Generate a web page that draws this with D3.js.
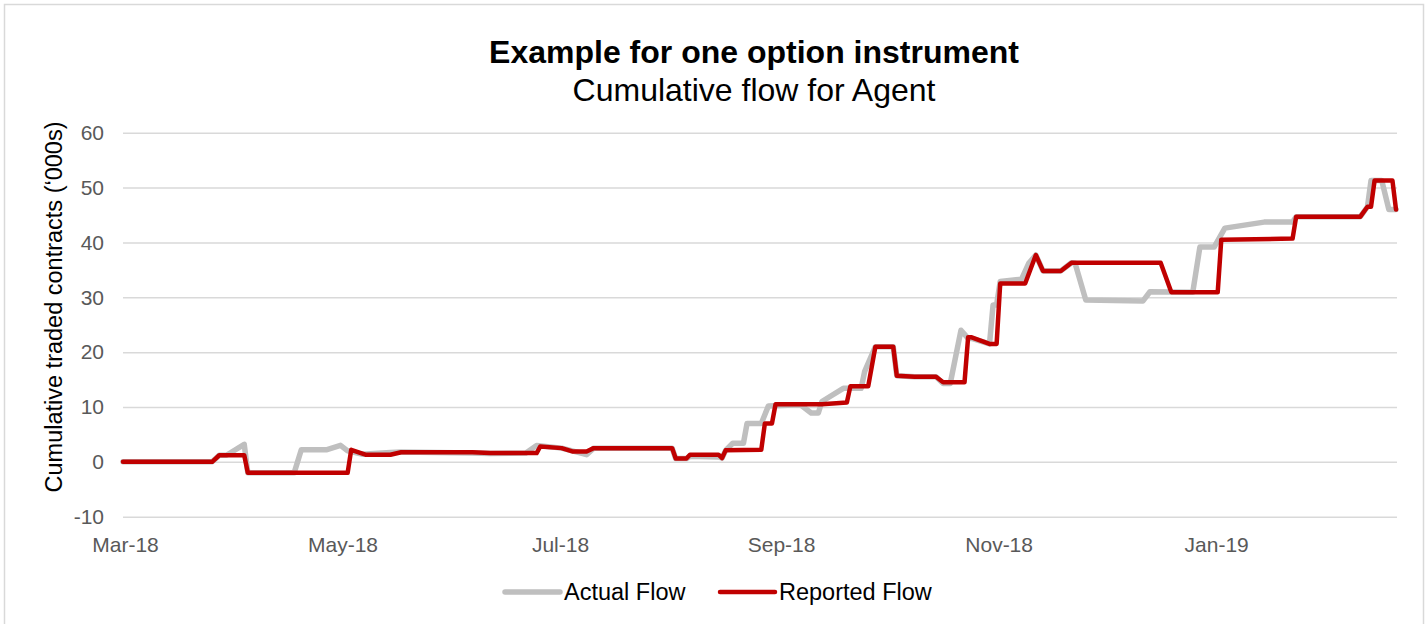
<!DOCTYPE html>
<html>
<head>
<meta charset="utf-8">
<script src="https://cdn.jsdelivr.net/npm/d3@7"></script>
<style>
  html, body { margin: 0; padding: 0; background: #ffffff; }
  svg { display: block; font-family: "Liberation Sans", Arial, sans-serif; }
</style>
</head>
<body>
<svg id="chart" width="1428" height="624"></svg>
<script>
// ---- Data ----
const titleText = "Example for one option instrument";
const subtitleText = "Cumulative flow for Agent";
const yAxisTitle = "Cumulative traded contracts (\u2018000s)";
const seriesNames = ["Actual Flow", "Reported Flow"];

const yTicks = [-10, 0, 10, 20, 30, 40, 50, 60];
const xTickDates = ["2018-03-01", "2018-05-01", "2018-07-01", "2018-09-01", "2018-11-01", "2019-01-01"];
const xDomain = ["2018-03-01", "2019-02-21"];

const actualDates = [
  "2018-03-01","2018-03-26","2018-03-28","2018-03-30","2018-04-04","2018-04-05","2018-04-18","2018-04-20",
  "2018-04-27","2018-05-01","2018-05-03","2018-05-07","2018-05-15","2018-05-18","2018-06-07","2018-06-12",
  "2018-06-22","2018-06-25","2018-07-02","2018-07-05","2018-07-09","2018-07-11","2018-08-02","2018-08-03",
  "2018-08-06","2018-08-07","2018-08-15","2018-08-16","2018-08-17","2018-08-19","2018-08-22","2018-08-23",
  "2018-08-27","2018-08-29","2018-09-07","2018-09-10","2018-09-12","2018-09-13","2018-09-19","2018-09-24",
  "2018-09-25","2018-09-28","2018-10-03","2018-10-04","2018-10-09","2018-10-15","2018-10-17","2018-10-19",
  "2018-10-22","2018-10-24","2018-10-25","2018-10-30","2018-10-31","2018-11-01","2018-11-02","2018-11-08",
  "2018-11-10","2018-11-12","2018-11-14","2018-11-19","2018-11-22","2018-11-23","2018-11-26","2018-12-12",
  "2018-12-14","2018-12-26","2018-12-28","2019-01-01","2019-01-04","2019-01-15","2019-01-23","2019-01-24",
  "2019-02-11","2019-02-13","2019-02-14","2019-02-17","2019-02-19","2019-02-21"
];
const actualValues = [
  0, 0, 1.2, 1.2, 3.2, -2, -2, 2.2,
  2.2, 3.0, 2.0, 1.4, 1.7, 1.8, 1.6, 1.5,
  1.6, 3.0, 2.5, 2.0, 1.3, 2.5, 2.5, 0.6,
  0.6, 1.0, 0.9, 0.7, 2.1, 3.4, 3.4, 7.0,
  7.0, 10.2, 10.4, 8.9, 8.9, 11.0, 13.4, 13.4,
  16.5, 21, 21, 15.7, 15.5, 15.5, 14.3, 14.3,
  24.0, 22.5, 22.5, 21.5, 28.6, 28.6, 32.9, 33.3,
  36.2, 37.7, 34.8, 34.8, 36.3, 36.2, 29.5, 29.3,
  31.0, 30.9, 39.15, 39.15, 42.6, 43.7, 43.7, 44.7,
  44.7, 46.5, 51.3, 51.3, 46, 46
];

const reportedDates = [
  "2018-03-01","2018-03-26","2018-03-28","2018-04-04","2018-04-05","2018-05-03","2018-05-04","2018-05-08",
  "2018-05-15","2018-05-18","2018-06-07","2018-06-12","2018-06-25","2018-06-26","2018-07-02","2018-07-05",
  "2018-07-09","2018-07-11","2018-08-02","2018-08-03","2018-08-06","2018-08-07","2018-08-15","2018-08-16",
  "2018-08-17","2018-08-27","2018-08-28","2018-08-30","2018-08-31","2018-09-13","2018-09-20","2018-09-21",
  "2018-09-26","2018-09-28","2018-10-03","2018-10-04","2018-10-09","2018-10-15","2018-10-17","2018-10-23",
  "2018-10-24","2018-10-25","2018-10-30","2018-11-01","2018-11-02","2018-11-09","2018-11-12","2018-11-14",
  "2018-11-19","2018-11-22","2018-12-17","2018-12-20","2019-01-02","2019-01-03","2019-01-23","2019-01-24",
  "2019-02-11","2019-02-13","2019-02-14","2019-02-15","2019-02-20","2019-02-21"
];
const reportedValues = [
  0, 0, 1.2, 1.2, -2, -2, 2.2, 1.3,
  1.3, 1.75, 1.75, 1.6, 1.6, 2.8, 2.5, 1.9,
  1.9, 2.5, 2.5, 0.6, 0.6, 1.3, 1.3, 0.7,
  2.1, 2.2, 7, 7, 10.5, 10.5, 10.8, 13.8,
  13.8, 21, 21, 15.7, 15.5, 15.5, 14.5, 14.5,
  22.7, 22.7, 21.5, 21.5, 32.5, 32.5, 37.7, 34.8,
  34.8, 36.3, 36.3, 30.9, 30.9, 40.5, 40.7, 44.7,
  44.7, 46.5, 46.5, 51.3, 51.3, 46
];

// ---- Build ----
const parse = d3.timeParse("%Y-%m-%d");
const toSeries = (dates, values) => dates.map((d, i) => ({ date: parse(d), value: values[i] }));
const series = [
  { name: seriesNames[0], color: "#bfbfbf", width: 5.5, data: toSeries(actualDates, actualValues) },
  { name: seriesNames[1], color: "#c00000", width: 4.5, data: toSeries(reportedDates, reportedValues) }
];

const svg = d3.select("#chart");
const plot = { left: 123, right: 1397, top: 132.7, bottom: 516.7 };

const x = d3.scaleTime().domain(xDomain.map(parse)).range([plot.left, plot.right - 1]);
const y = d3.scaleLinear().domain([-10, 60]).range([plot.bottom, plot.top]);

// Frame
svg.append("rect")
  .attr("x", 4.5).attr("y", 4.5).attr("width", 1419).attr("height", 640)
  .attr("fill", "#ffffff").attr("stroke", "#d9d9d9").attr("stroke-width", 1.5);

// Titles
svg.append("text").attr("x", 754).attr("y", 63).attr("text-anchor", "middle")
  .attr("font-size", 32).attr("font-weight", "bold").attr("fill", "#000").text(titleText);
svg.append("text").attr("x", 754).attr("y", 101).attr("text-anchor", "middle")
  .attr("font-size", 32).attr("fill", "#000").text(subtitleText);

// Y grid + labels via axis
const yAxis = d3.axisLeft(y).tickValues(yTicks).tickSize(-(plot.right - plot.left)).tickPadding(19).tickFormat(d => String(d));
const yg = svg.append("g").attr("transform", `translate(${plot.left},0)`).call(yAxis);
yg.select(".domain").remove();
yg.selectAll(".tick line").attr("stroke", "#d9d9d9").attr("stroke-width", 1.5);
yg.selectAll(".tick text").attr("fill", "#595959").attr("font-size", 21)
  .attr("font-family", "'Liberation Sans', Arial, sans-serif");

// X axis labels
const xAxis = d3.axisBottom(x).tickValues(xTickDates.map(parse)).tickSize(0).tickPadding(0).tickFormat(d3.timeFormat("%b-%y"));
const xg = svg.append("g").attr("transform", `translate(0,${plot.bottom})`).call(xAxis);
xg.select(".domain").remove();
xg.selectAll(".tick text").attr("fill", "#595959").attr("font-size", 21)
  .attr("font-family", "'Liberation Sans', Arial, sans-serif")
  .attr("dy", null).attr("y", 35.5).attr("dx", 2);

// Y axis title
svg.append("text").attr("transform", "translate(62,307) rotate(-90)")
  .attr("text-anchor", "middle").attr("font-size", 23.5).attr("fill", "#000").text(yAxisTitle);

// Lines
const line = d3.line().x(d => x(d.date)).y(d => y(d.value));
svg.append("g").selectAll("path").data(series).join("path")
  .attr("d", d => line(d.data))
  .attr("fill", "none")
  .attr("stroke", d => d.color)
  .attr("stroke-width", d => d.width)
  .attr("stroke-linejoin", "round")
  .attr("stroke-linecap", "round");

// Legend
const legendItems = [
  { s: series[0], x0: 505, x1: 560, tx: 564 },
  { s: series[1], x0: 720, x1: 775, tx: 779 }
];
const lg = svg.append("g");
legendItems.forEach(it => {
  lg.append("line").attr("x1", it.x0).attr("x2", it.x1).attr("y1", 592).attr("y2", 592)
    .attr("stroke", it.s.color).attr("stroke-width", it.s.width).attr("stroke-linecap", "round");
  lg.append("text").attr("x", it.tx).attr("y", 600).attr("font-size", 23.5).attr("fill", "#000").text(it.s.name);
});
</script>
</body>
</html>
